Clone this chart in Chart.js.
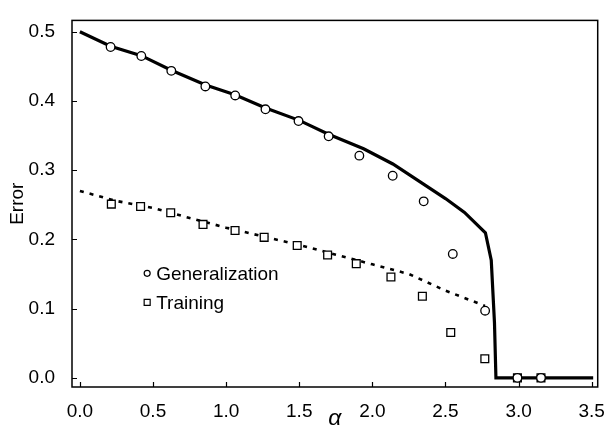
<!DOCTYPE html>
<html><head><meta charset="utf-8">
<script src="https://cdn.jsdelivr.net/npm/chart.js@4.4.1/dist/chart.umd.min.js"></script>
<style>html,body{margin:0;padding:0;background:#fff;} #wrap{width:610px;height:430px;position:relative;}</style>
</head><body><div id="wrap"><canvas id="c" width="610" height="430"></canvas></div>
<script>
const xTicks = [0, 0.5, 1, 1.5, 2, 2.5, 3, 3.5];
const yTicks = [0, 0.1, 0.2, 0.3, 0.4, 0.5];
const legendLabels = ['Generalization', 'Training'];
const genSimX = [0.21, 0.42, 0.625, 0.858, 1.062, 1.269, 1.495, 1.701, 1.911, 2.139, 2.351, 2.55, 2.771, 2.992, 3.153];
const genSimY = [0.478, 0.465, 0.4435, 0.421, 0.408, 0.388, 0.371, 0.349, 0.321, 0.292, 0.255, 0.179, 0.097, 0, 0];
const trainSimX = [0.215, 0.415, 0.621, 0.842, 1.061, 1.260, 1.486, 1.694, 1.890, 2.127, 2.342, 2.536, 2.769, 2.992, 3.153];
const trainSimY = [0.251, 0.2475, 0.2386, 0.2217, 0.2128, 0.203, 0.1913, 0.1776, 0.165, 0.1457, 0.118, 0.0656, 0.0276, 0, 0];
const genTheoryX = [0, 0.21, 0.42, 0.625, 0.86, 1.06, 1.27, 1.5, 1.7, 1.94, 2.14, 2.35, 2.5, 2.63, 2.773, 2.813, 2.835, 2.845, 3.51];
const genTheoryY = [0.5, 0.479, 0.4655, 0.4445, 0.423, 0.409, 0.39, 0.372, 0.352, 0.331, 0.309, 0.280, 0.259, 0.239, 0.2096, 0.17, 0.08, 0, 0];
const trainTheoryX = [0, 0.25, 0.5, 0.75, 1.0, 1.25, 1.5, 1.75, 2.0, 2.25, 2.5, 2.77];
const trainTheoryY = [0.270, 0.2555, 0.2455, 0.231, 0.217, 0.2045, 0.192, 0.178, 0.164, 0.150, 0.126, 0.104];

const zip = (xs, ys) => xs.map((x, i) => ({x: x, y: ys[i]}));
const FONT = "'Liberation Sans', Arial, sans-serif";

const framePlugin = {
  id: 'frame',
  afterDraw(chart) {
    const ctx = chart.ctx, a = chart.chartArea;
    const xs = chart.scales.x, ys = chart.scales.y;
    ctx.save();
    ctx.strokeStyle = '#000';
    ctx.lineWidth = 1.5;
    ctx.strokeRect(a.left, a.top, a.right - a.left, a.bottom - a.top);
    ctx.lineWidth = 1.2;
    ctx.beginPath();
    xTicks.forEach(v => {
      const px = Math.round(xs.getPixelForValue(v)) + 0.5;
      ctx.moveTo(px, a.bottom); ctx.lineTo(px, a.bottom - 5);
    });
    yTicks.forEach(v => {
      const py = Math.round(ys.getPixelForValue(v)) + 0.5;
      ctx.moveTo(a.left, py); ctx.lineTo(a.left + 5, py);
    });
    ctx.stroke();
    // legend
    const lx = xs.getPixelForValue(0.46);
    const ly1 = ys.getPixelForValue(0.151);
    const ly2 = ys.getPixelForValue(0.109);
    ctx.lineWidth = 1.2;
    ctx.fillStyle = '#fff';
    ctx.beginPath(); ctx.arc(lx, ly1, 3, 0, Math.PI * 2); ctx.fill(); ctx.stroke();
    ctx.beginPath(); ctx.rect(lx - 3, ly2 - 3, 6, 6); ctx.fill(); ctx.stroke();
    ctx.fillStyle = '#000';
    ctx.font = '19px ' + FONT;
    ctx.textBaseline = 'middle';
    ctx.textAlign = 'left';
    ctx.fillText(legendLabels[0], lx + 9, ly1 + 1);
    ctx.fillText(legendLabels[1], lx + 9, ly2 + 1);
    ctx.restore();
  }
};

new Chart(document.getElementById('c'), {
  type: 'scatter',
  data: {
    datasets: [
      {label: 'Generalization', data: zip(genSimX, genSimY), showLine: false, pointStyle: 'circle', pointRadius: 4.3,
       pointBackgroundColor: '#fff', pointBorderColor: '#000', pointBorderWidth: 1.3, order: 0},
      {label: 'Training', data: zip(trainSimX, trainSimY), showLine: false, pointStyle: 'rect', pointRadius: 5.5,
       pointBackgroundColor: '#fff', pointBorderColor: '#000', pointBorderWidth: 1.3, order: 0},
      {label: 'Generalization theory', data: zip(genTheoryX, genTheoryY), showLine: true, pointRadius: 0,
       borderColor: '#000', borderWidth: 3.2, tension: 0, order: 1},
      {label: 'Training theory', data: zip(trainTheoryX, trainTheoryY), showLine: true, pointRadius: 0,
       borderColor: '#000', borderWidth: 2.6, borderDash: [4, 6], tension: 0, order: 1}
    ]
  },
  options: {
    responsive: false,
    animation: false,
    devicePixelRatio: 1,
    layout: {padding: {top: 10, right: 7, left: 0, bottom: 0}},
    plugins: {legend: {display: false}, tooltip: {enabled: false}},
    scales: {
      x: {
        type: 'linear', min: -0.054, max: 3.541,
        afterBuildTicks: s => { s.ticks = xTicks.map(v => ({value: v})); },
        afterFit: s => { s.height = 43; },
        grid: {display: false}, border: {display: false},
        ticks: {color: '#000', font: {family: FONT, size: 19}, padding: 5, maxRotation: 0,
                callback: v => Number(v).toFixed(1)},
        title: {display: true, text: 'α', color: '#000', font: {family: FONT, size: 23, style: 'italic', lineHeight: 1},
                padding: {top: 0, bottom: 0}}
      },
      y: {
        type: 'linear', min: -0.0132, max: 0.5164,
        afterBuildTicks: s => { s.ticks = yTicks.map(v => ({value: v})); },
        afterFit: s => { s.width = 72; },
        grid: {display: false}, border: {display: false},
        ticks: {color: '#000', font: {family: FONT, size: 19}, padding: 9,
                callback: v => Number(v).toFixed(1)},
        title: {display: true, text: 'Error', color: '#000', font: {family: FONT, size: 19, lineHeight: 1},
                padding: {top: 8, bottom: 0}}
      }
    }
  },
  plugins: [framePlugin]
});
</script></body></html>
